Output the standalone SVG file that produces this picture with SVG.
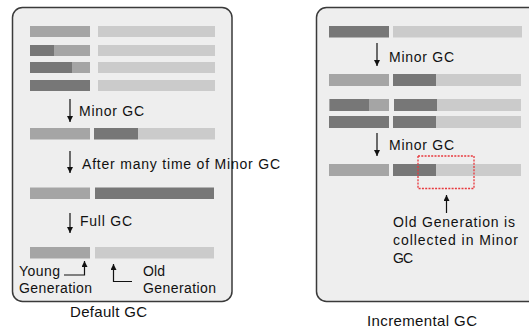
<svg xmlns="http://www.w3.org/2000/svg" width="529" height="328" viewBox="0 0 529 328">
<defs>
<marker id="ah" viewBox="0 0 6 6" refX="6" refY="3" markerWidth="6" markerHeight="6" markerUnits="userSpaceOnUse" orient="auto">
<path d="M0,0 L6,3 L0,6 z" fill="#111"/>
</marker>
</defs>
<style>
.panel{fill:#eeeeee;stroke:#3a3a3a;stroke-width:1.5}
.d{fill:#777777}
.m{fill:#a5a5a5}
.l{fill:#cbcbcb}
.t{font-family:"Liberation Sans",Arial,sans-serif;font-size:14px;fill:#111}
.ti{font-family:"Liberation Sans",Arial,sans-serif;font-size:15px;fill:#111}
.c{fill:none;stroke:#111;stroke-width:1.2}
.sel{fill:none;stroke:#e8383d;stroke-width:1.3;stroke-dasharray:2 1.3}
</style>
<g id="default-gc">
<rect class="panel" x="12.5" y="7.5" width="219.5" height="294" rx="10"/>
<g id="d-row1"><rect class="m" x="30" y="26" width="60" height="11"/><rect class="l" x="98" y="26" width="117" height="11"/></g>
<g id="d-row2"><rect class="d" x="30" y="45" width="24" height="11"/><rect class="m" x="54" y="45" width="36" height="11"/><rect class="l" x="98" y="45" width="117" height="11"/></g>
<g id="d-row3"><rect class="d" x="30" y="62" width="42" height="11"/><rect class="m" x="72" y="62" width="18" height="11"/><rect class="l" x="98" y="62" width="117" height="11"/></g>
<g id="d-row4"><rect class="d" x="30" y="80" width="60" height="11"/><rect class="l" x="98" y="80" width="117" height="11"/></g>
<g id="d-row5"><rect class="m" x="30" y="128" width="60" height="11.5"/><rect class="d" x="94" y="128" width="44" height="11.5"/><rect class="l" x="138" y="128" width="77" height="11.5"/></g>
<g id="d-row6"><rect class="m" x="30" y="187.5" width="60" height="11.5"/><rect class="d" x="95" y="187.5" width="119" height="11.5"/></g>
<g id="d-row7"><rect class="m" x="30" y="247" width="60" height="11.5"/><rect class="l" x="95" y="247" width="119" height="11.5"/></g>
<text class="t" x="79" y="116" textLength="65" lengthAdjust="spacing">Minor GC</text>
<text class="t" x="82" y="169" textLength="198" lengthAdjust="spacing">After many time of Minor GC</text>
<text class="t" x="80" y="226" textLength="52" lengthAdjust="spacing">Full GC</text>
<text class="t" x="19" y="276" textLength="41" lengthAdjust="spacing">Young</text>
<text class="t" x="19" y="293" textLength="73" lengthAdjust="spacing">Generation</text>
<text class="t" x="143" y="276" textLength="22" lengthAdjust="spacing">Old</text>
<text class="t" x="143" y="293" textLength="73" lengthAdjust="spacing">Generation</text>
</g>
<text class="ti" x="70" y="316.5" textLength="77" lengthAdjust="spacing">Default GC</text>
<g id="incremental-gc">
<rect class="panel" x="316.5" y="7.5" width="240" height="294" rx="10"/>
<g id="i-row1"><rect class="d" x="329" y="26" width="60" height="11.5"/><rect class="l" x="393" y="26" width="129" height="11.5"/></g>
<g id="i-row2"><rect class="m" x="329" y="74" width="60" height="12"/><rect class="d" x="393" y="74" width="43" height="12"/><rect class="l" x="436" y="74" width="85" height="12"/></g>
<g id="i-row3"><rect class="m" x="329" y="99" width="60" height="12"/><rect class="d" x="330" y="99" width="39" height="12"/><rect class="d" x="394" y="99" width="43" height="12"/><rect class="l" x="437" y="99" width="84" height="12"/></g>
<g id="i-row4"><rect class="d" x="329" y="116" width="60" height="12"/><rect class="d" x="393" y="116" width="43" height="12"/><rect class="l" x="436" y="116" width="85" height="12"/></g>
<g id="i-row5"><rect class="m" x="329" y="164" width="60" height="12"/><rect class="d" x="393" y="164" width="43" height="12"/><rect class="l" x="436" y="164" width="85" height="12"/></g>
<rect id="old-collected" class="sel" x="418" y="156" width="56" height="32.5"/>
<text class="t" x="389" y="61.5" textLength="65" lengthAdjust="spacing">Minor GC</text>
<text class="t" x="389" y="150" textLength="65" lengthAdjust="spacing">Minor GC</text>
<text class="t" x="393" y="227" textLength="122" lengthAdjust="spacing">Old Generation is</text>
<text class="t" x="393" y="245" textLength="125" lengthAdjust="spacing">collected in Minor</text>
<text class="t" x="393" y="263" textLength="20" lengthAdjust="spacing">GC</text>
</g>
<text class="ti" x="367" y="326" textLength="110" lengthAdjust="spacing">Incremental GC</text>
<g id="connectors">
<path class="c" d="M70,99 V122" marker-end="url(#ah)"/>
<path class="c" d="M70,151 V173" marker-end="url(#ah)"/>
<path class="c" d="M70,213 V233" marker-end="url(#ah)"/>
<path class="c" d="M64,275 H84.5 V261" marker-end="url(#ah)"/>
<path class="c" d="M132,281.5 H113.5 V264" marker-end="url(#ah)"/>
<path class="c" d="M377,43 V66" marker-end="url(#ah)"/>
<path class="c" d="M377,133 V156" marker-end="url(#ah)"/>
<path class="c" d="M446.5,213 V195" marker-end="url(#ah)"/>
</g>
</svg>
